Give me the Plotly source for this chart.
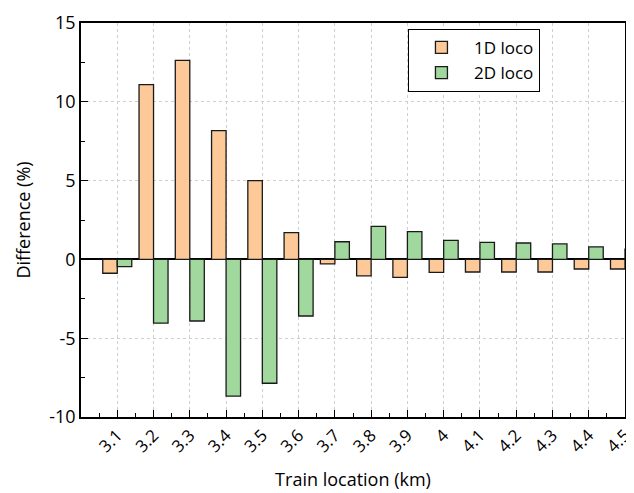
import plotly.graph_objects as go

locations = [3.1, 3.2, 3.3, 3.4, 3.5, 3.6, 3.7, 3.8, 3.9, 4.0, 4.1, 4.2, 4.3, 4.4, 4.5]
tick_labels = ["3.1", "3.2", "3.3", "3.4", "3.5", "3.6", "3.7", "3.8", "3.9", "4",
               "4.1", "4.2", "4.3", "4.4", "4.5"]
diff_1d = [-0.88, 11.09, 12.63, 8.17, 5.0, 1.7, -0.29, -1.04, -1.14, -0.82,
           -0.8, -0.8, -0.8, -0.61, -0.61]
diff_2d = [-0.46, -4.04, -3.91, -8.67, -7.86, -3.59, 1.12, 2.1, 1.76, 1.21,
           1.08, 1.04, 0.98, 0.79, 0.65]
minor_ticks = [3.05 + 0.1 * i for i in range(15)]
y_ticks = [-10, -5, 0, 5, 10, 15]
y_tick_labels = ["-10", "-5", "0", "5", "10", "15"]
y_minor_ticks = [-7.5, -2.5, 2.5, 7.5, 12.5]

FONT = "'Open Sans', sans-serif"

fig = go.Figure()
fig.add_trace(go.Bar(x=locations, y=diff_1d, name="1D loco",
                     marker=dict(color="#FDC998", line=dict(color="#1a1a1a", width=1.3))))
fig.add_trace(go.Bar(x=locations, y=diff_2d, name="2D loco",
                     marker=dict(color="#A0D89E", line=dict(color="#1a1a1a", width=1.3))))

# page body has an 8px default margin, so the figure is 8px smaller than the window
fig.update_layout(
    width=626, height=485,
    margin=dict(l=73, r=9, t=15, b=76),
    paper_bgcolor="white", plot_bgcolor="white",
    barmode="group", bargap=0.2, bargroupgap=0,
    font=dict(family=FONT, size=17, color="black"),
    legend=dict(x=0.601, y=0.985, xanchor="left", yanchor="top",
                bordercolor="black", borderwidth=1, bgcolor="white",
                font=dict(size=17), itemwidth=55, tracegroupgap=4),
)
fig.update_xaxes(
    automargin=False, ticklabeloverflow="allow",
    range=[3.0, 4.5], tickmode="array", tickvals=locations, ticktext=tick_labels,
    tickangle=-45, ticks="inside", ticklen=7, tickwidth=1.2, tickcolor="black",
    showline=True, linecolor="black", linewidth=1.5, mirror=True,
    showgrid=True, gridcolor="#cfcfcf", griddash="dot", gridwidth=1,
    zeroline=False,
    minor=dict(tickmode="array", tickvals=minor_ticks, ticks="inside", ticklen=4,
               tickcolor="black", showgrid=False),
    title=dict(text="Train location (km)", standoff=17, font=dict(size=18)),
    tickfont=dict(size=17),
)
fig.update_yaxes(
    automargin=False,
    range=[-10, 15], tickmode="array", tickvals=y_ticks, ticktext=y_tick_labels,
    ticks="inside", ticklen=7, tickwidth=1.2, tickcolor="black",
    showline=True, linecolor="black", linewidth=1.5, mirror=True,
    showgrid=True, gridcolor="#cfcfcf", griddash="dot", gridwidth=1,
    zeroline=True, zerolinecolor="black", zerolinewidth=1.5,
    minor=dict(tickmode="array", tickvals=y_minor_ticks, ticks="inside",
               ticklen=4, tickcolor="black", showgrid=False),
    title=dict(text="Difference (%)", standoff=14, font=dict(size=18)),
    tickfont=dict(size=18),
)

fig.write_html("out.html")
